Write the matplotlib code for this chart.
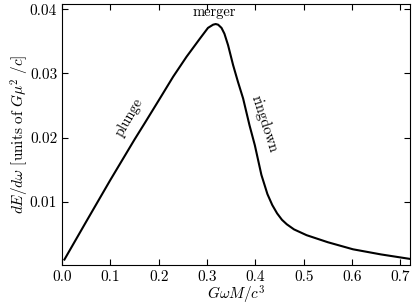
import matplotlib
matplotlib.use('Agg')
import matplotlib.pyplot as plt

plt.rcParams['font.family'] = 'serif'
plt.rcParams['font.serif'] = ['cmr10']
plt.rcParams['mathtext.fontset'] = 'cm'
plt.rcParams['axes.unicode_minus'] = False
plt.rcParams['axes.formatter.use_mathtext'] = True

# values
omega = [0.005, 0.05, 0.10, 0.15, 0.1715, 0.2025, 0.230, 0.2576, 0.285, 0.302,
         0.3126, 0.318, 0.323, 0.330, 0.336, 0.3436, 0.354, 0.364, 0.3747, 0.388,
         0.399, 0.4125, 0.425, 0.435, 0.445, 0.455, 0.465, 0.48, 0.506, 0.55,
         0.602, 0.66, 0.72]
dEdw = [0.0010, 0.0069, 0.0134, 0.0197, 0.0223, 0.0261, 0.0295, 0.0326, 0.0354,
        0.0371, 0.0376, 0.0377, 0.0376, 0.0371, 0.0362, 0.0344, 0.0313, 0.0287,
        0.0261, 0.0219, 0.0188, 0.0142, 0.0112, 0.0095, 0.0082, 0.0072, 0.0065,
        0.0057, 0.0048, 0.0037, 0.0026, 0.0018, 0.0011]
xticks = [0.0, 0.1, 0.2, 0.3, 0.4, 0.5, 0.6, 0.7]
yticks = [0.01, 0.02, 0.03, 0.04]

fig = plt.figure(figsize=(4.15, 3.05), dpi=100)
ax = fig.add_axes([0.1494, 0.1311, 0.8386, 0.8574])
ax.plot(omega, dEdw, color='black', lw=1.5)

ax.text(0.315, 0.0389, 'merger', ha='center', va='baseline', fontsize=10.5)
ax.text(0.138, 0.0232, 'plunge', ha='center', va='center', fontsize=10.5, rotation=60)
ax.text(0.419, 0.0222, 'ringdown', ha='center', va='center', fontsize=10.5, rotation=-72)

ax.set_xlim(0, 0.72)
ax.set_ylim(0.00015, 0.0409)
ax.set_xticks(xticks)
ax.set_xticklabels(['%.1f' % t for t in xticks])
ax.set_yticks(yticks)
ax.set_yticklabels(['%.2f' % t for t in yticks])
ax.tick_params(direction='in', top=True, right=True, labelsize=11, length=4)
ax.set_xlabel(r'$G\omega M/c^3$', fontsize=11, labelpad=0)
ax.set_ylabel(r'$dE/d\omega\ [\mathrm{units\ of}\ G\mu^2\ /c]$', fontsize=11, labelpad=-1)

fig.savefig('out.png', dpi=100)
